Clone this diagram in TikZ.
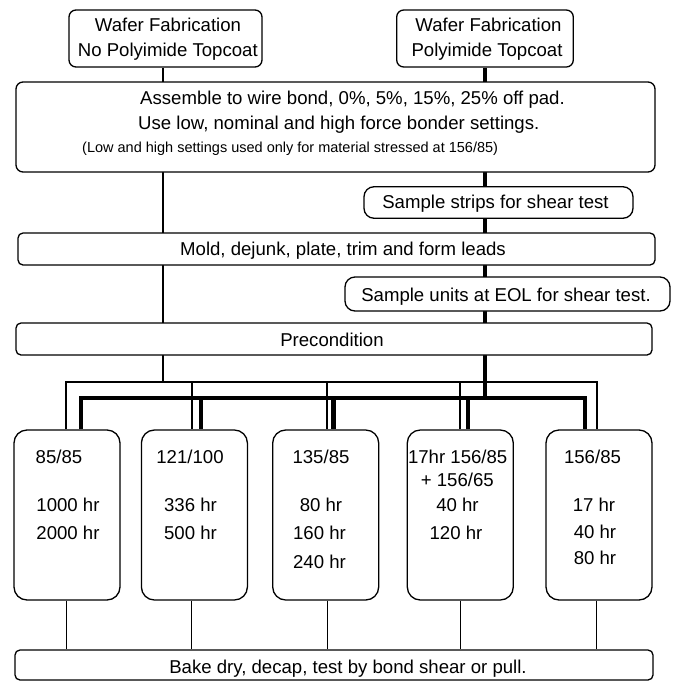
\documentclass[tikz,border=0pt]{standalone}
\usepackage{fontspec}
\setmainfont{Liberation Sans}
\pgfdeclarelayer{bg}
\pgfsetlayers{bg,main}
\begin{document}
\begin{tikzpicture}[x=1pt,y=-1pt,
  box/.style={draw, fill=white, line width=1.3pt, rounded corners=7pt, inner sep=0pt},
  sbox/.style={box, rounded corners=10pt},
  tbox/.style={box, rounded corners=13pt, minimum width=106pt, minimum height=170pt},
  lbl/.style={font=\fontsize{18.6}{22}\selectfont, inner sep=0pt, anchor=base},
  slbl/.style={font=\fontsize{14.5}{17}\selectfont, inner sep=0pt, anchor=base west},
  mainL/.style={line width=2.3pt},
  mainR/.style={line width=4.3pt},
  thinl/.style={line width=1.7pt, line join=miter},
  thickl/.style={line width=4.3pt, line join=miter},
  botl/.style={line width=1pt}]
\useasboundingbox (0,0) rectangle (673,681);
% boxes
\node[box, minimum width=193pt, minimum height=57pt] (wafA) at (165.5,38.5) {};
\node[box, minimum width=176.6pt, minimum height=57pt] (wafB) at (485,38.5) {};
\node[box, minimum width=639pt, minimum height=90pt] (asm) at (335.5,127) {};
\node[sbox, minimum width=269pt, minimum height=31.5pt] (strips) at (498.5,202.5) {};
\node[box, rounded corners=5pt, minimum width=637pt, minimum height=32pt] (mold) at (336.5,249) {};
\node[sbox, minimum width=325pt, minimum height=34pt] (units) at (507.5,294) {};
\node[box, rounded corners=5pt, minimum width=636pt, minimum height=32pt] (pre) at (334,339) {};
\node[tbox] (b1) at (67,515) {};
\node[tbox] (b2) at (194.4,515) {};
\node[tbox] (b3) at (325.7,515) {};
\node[tbox] (b4) at (460.3,515) {};
\node[tbox] (b5) at (599,515) {};
\node[box, rounded corners=5pt, minimum width=638pt, minimum height=30pt] (bake) at (334,665) {};
% connector coordinates
\coordinate (lA) at (163.3,0);
\coordinate (lB) at (485.3,0);
\coordinate (tby) at (0,381.7);
\coordinate (kby) at (0,398.3);
\coordinate (d1) at (66.3,381.7);
\coordinate (d2) at (191.7,381.7);
\coordinate (d3) at (327,381.7);
\coordinate (d4) at (460,381.7);
\coordinate (d5) at (596.7,381.7);
\coordinate (k1) at (81,398.3);
\coordinate (k2) at (201,398.3);
\coordinate (k3) at (333.5,398.3);
\coordinate (k4) at (468,398.3);
\coordinate (k5) at (585,398.3);
\begin{pgfonlayer}{bg}
\draw[mainL] (lA |- wafA.south) -- (lA |- tby);
\draw[mainR] (lB |- wafB.south) -- (lB |- kby);
\draw[thinl] (d1 |- b1.north) -- (d1) -- (d5) -- (d5 |- b5.north);
\draw[thinl] (d2) -- (d2 |- b2.north);
\draw[thinl] (d3) -- (d3 |- b3.north);
\draw[thinl] (d4) -- (d4 |- b4.north);
\draw[thickl] (k1 |- b1.north) -- (k1) -- (k5) -- (k5 |- b5.north);
\draw[thickl] (k2) -- (k2 |- b2.north);
\draw[thickl] (k3) -- (k3 |- b3.north);
\draw[thickl] (k4) -- (k4 |- b4.north);
\draw[botl] (d1 |- b1.south) -- (d1 |- bake.north);
\draw[botl] (d2 |- b2.south) -- (d2 |- bake.north);
\draw[botl] (d3 |- b3.south) -- (d3 |- bake.north);
\draw[botl] (d4 |- b4.south) -- (d4 |- bake.north);
\draw[botl] (d5 |- b5.south) -- (d5 |- bake.north);
\end{pgfonlayer}
% texts
\node[lbl] (tA1) at (168,31.7) {Wafer Fabrication};
\node[lbl] (tA2) at (167.8,56) {No Polyimide Topcoat};
\node[lbl] (tB1) at (488.5,31.7) {Wafer Fabrication};
\node[lbl] (tB2) at (487,56) {Polyimide Topcoat};
\node[lbl, anchor=base west] (as1) at (140,104.7) {Assemble to wire bond, 0\%, 5\%, 15\%, 25\% off pad.};
\node[lbl, anchor=base west] (as2) at (138,129.7) {Use low, nominal and high force bonder settings.};
\node[slbl] (as3) at (82,152.2) {(Low and high settings used only for material stressed at 156/85)};
\node[lbl] (tst) at (495.5,208.4) {Sample strips for shear test};
\node[lbl] (tmo) at (343,255.7) {Mold, dejunk, plate, trim and form leads};
\node[lbl] (tun) at (506,301.5) {Sample units at EOL for shear test.};
\node[lbl] (tpr) at (332,346.7) {Precondition};
\node[lbl] (c1a) at (59,463.4) {85/85};
\node[lbl] (c1b) at (68,511.7) {1000 hr};
\node[lbl] (c1c) at (68,539.4) {2000 hr};
\node[lbl] (c2a) at (190,463.4) {121/100};
\node[lbl] (c2b) at (190.5,511.7) {336 hr};
\node[lbl] (c2c) at (190.5,539.4) {500 hr};
\node[lbl] (c3a) at (321,463.4) {135/85};
\node[lbl] (c3b) at (321,511.7) {80 hr};
\node[lbl] (c3c) at (319.5,539.4) {160 hr};
\node[lbl] (c3d) at (319.5,568.4) {240 hr};
\node[lbl] (c4a) at (457.7,463.4) {17hr 156/85};
\node[lbl] (c4b) at (457.3,486) {+ 156/65};
\node[lbl] (c4c) at (457.5,511.7) {40 hr};
\node[lbl] (c4d) at (456,539) {120 hr};
\node[lbl] (c5a) at (592.5,463.4) {156/85};
\node[lbl] (c5b) at (594,511.7) {17 hr};
\node[lbl] (c5c) at (595,538.4) {40 hr};
\node[lbl] (c5d) at (595,564) {80 hr};
\node[lbl] (tbk) at (348,673.7) {Bake dry, decap, test by bond shear or pull.};
\end{tikzpicture}
\end{document}
